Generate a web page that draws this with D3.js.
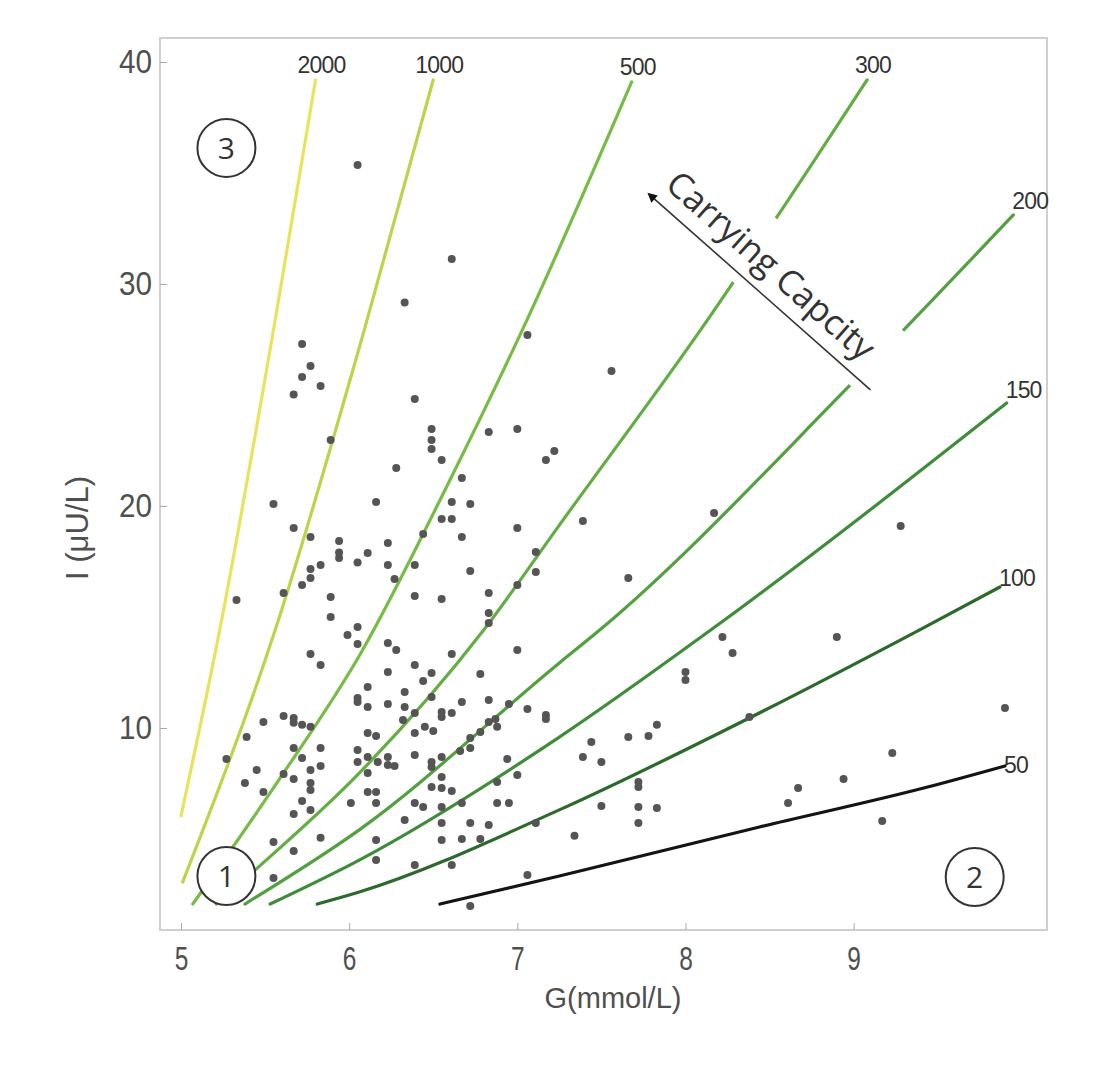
<!DOCTYPE html>
<html>
<head>
<meta charset="utf-8">
<script src="https://cdn.jsdelivr.net/npm/d3@7"></script>
<style>
  body { margin: 0; background: #fff; }
  .tickLabel { font-family: "Liberation Sans", Arial, sans-serif; fill: #4f4f4f; }
  .capLabel { font-family: "Liberation Sans", Arial, sans-serif; font-size: 23px; fill: #333; letter-spacing: -0.8px; }
</style>
</head>
<body>
<svg id="svg1" width="1120" height="1088"></svg>
<script>
// data ----------------------------------------
var gTicks = [5, 6, 7, 8, 9];
var iTicks = [10, 20, 30, 40];

var capacities = [2000, 1000, 500, 300, 200, 150, 100, 50];

// iso-capacity curves, [G, I] pairs
var curve2000 = [[5.00, 6.04], [5.23, 14.41], [5.55, 27.93], [5.80, 39.19]];
var curve1000 = [[5.01, 3.06], [5.56, 14.41], [6.09, 27.93], [6.50, 39.19]];
var curve500 = [[5.07, 2.07], [5.59, 7.75], [6.07, 13.38], [6.57, 20.72], [7.03, 27.93], [7.68, 39.10]];
var curve300 = [[5.21, 2.07], [5.44, 3.60], [6.06, 7.97], [6.80, 14.41], [7.25, 19.14], [8.09, 27.93], [9.08, 39.19]];
var curve200 = [[5.38, 2.07], [6.06, 5.41], [7.25, 12.93], [7.49, 14.41], [8.98, 25.45], [9.95, 33.11]];
var curve150 = [[5.53, 2.07], [6.06, 4.05], [7.25, 9.59], [8.15, 14.41], [9.91, 24.64]];
var curve100 = [[5.81, 2.07], [6.06, 2.61], [7.25, 6.31], [8.38, 10.45], [9.39, 14.41], [9.87, 16.35]];
var curve50 = [[6.54, 2.07], [7.25, 3.33], [8.44, 5.54], [9.44, 7.34], [9.90, 8.29]];

var curves = [curve2000, curve1000, curve500, curve300, curve200, curve150, curve100, curve50];

// patients: glucose G (mmol/L) and insulin I (uU/L)
var patientG = [
  6.05, 6.61, 6.33,
  5.72, 5.77, 5.72, 5.83, 5.67, 5.89, 5.55, 5.67, 5.77, 5.94, 5.94, 5.94, 6.05, 5.83, 5.77, 5.77, 5.72, 5.61, 5.89, 5.33, 5.89, 6.05,
  7.06, 6.39, 6.49, 6.49, 6.49, 6.55, 6.83, 7.00, 7.22, 7.17, 6.28, 6.67, 6.16, 6.61, 6.72, 6.55, 6.61, 6.44, 6.67, 7.00, 6.23, 6.11,
  6.23, 6.39, 7.11, 7.11, 7.00, 6.27, 6.72, 6.39, 6.55, 6.83, 6.83, 6.83,
  5.99, 6.05, 5.77, 5.83, 6.05, 6.05, 5.49, 5.61, 5.67, 5.67, 5.72, 5.77, 5.39, 5.27, 5.45, 5.67, 5.72, 5.83, 5.83, 6.05, 6.05, 5.61,
  5.67, 5.77, 5.77, 5.77, 5.38, 5.49, 5.72, 5.77, 5.67, 6.01, 5.83, 5.55, 5.67, 5.55,
  6.23, 6.28, 6.61, 7.00, 6.39, 6.23, 6.44, 6.49, 6.78, 6.11, 6.33, 6.23, 6.11, 6.33, 6.49, 6.67, 6.83, 6.95, 7.06, 7.17, 7.17, 6.55,
  6.55, 6.61, 6.39, 6.32, 6.45, 6.50, 6.39, 6.11, 6.16, 6.83, 6.87, 6.88, 6.78, 6.72, 6.72, 6.66, 6.39, 6.55, 6.49, 6.49, 6.55, 6.23,
  6.23, 6.27, 6.17, 6.11, 6.11, 6.94, 7.00, 6.11, 6.16, 6.16, 6.49, 6.55, 6.61, 6.88, 6.88, 6.95, 6.39, 6.44, 6.55, 6.67, 6.55, 6.33,
  6.72, 6.83, 7.11, 6.55, 6.67, 6.78, 6.16, 6.16, 6.39, 6.61, 7.06, 6.72,
  7.56, 7.39, 8.17, 7.66, 9.28, 8.22, 8.28, 8.90, 8.00, 8.00, 9.90, 7.44, 7.39, 7.50, 7.66, 7.78, 7.83, 7.72, 7.72, 7.50, 7.72, 7.83,
  7.72, 7.34, 8.61, 8.67, 8.94, 9.23, 9.17, 8.38
];
var patientI = [
  35.36, 31.13, 29.17,
  27.30, 26.31, 25.81, 25.41, 25.02, 22.97, 20.09, 19.01, 18.60, 18.42, 17.91, 17.66, 17.45, 17.34, 17.16, 16.76, 16.44, 16.08, 15.90, 15.77, 15.00, 14.55,
  27.70, 24.82, 23.47, 22.97, 22.57, 22.07, 23.33, 23.47, 22.48, 22.07, 21.71, 21.26, 20.18, 20.18, 20.09, 19.41, 19.41, 18.74, 18.60, 19.01, 18.33, 17.88,
  17.34, 17.34, 17.93, 17.03, 16.44, 16.71, 17.07, 15.95, 15.81, 16.08, 15.18, 14.73,
  14.19, 13.78, 13.33, 12.84, 11.35, 11.17, 10.27, 10.54, 10.45, 10.23, 10.14, 10.05, 9.59, 8.60, 8.11, 9.10, 8.65, 9.10, 8.29, 9.01, 8.47, 7.93,
  7.70, 8.11, 7.52, 7.21, 7.52, 7.12, 6.71, 6.31, 6.13, 6.62, 5.05, 4.86, 4.46, 3.24,
  13.83, 13.51, 13.33, 13.51, 12.84, 12.52, 12.12, 12.48, 12.43, 11.85, 11.62, 11.08, 10.95, 10.95, 11.40, 11.17, 11.26, 11.08, 10.86, 10.59, 10.41, 10.72,
  10.50, 10.68, 10.68, 10.36, 10.05, 9.86, 9.77, 9.77, 9.64, 10.27, 10.41, 10.05, 9.82, 9.55, 9.10, 8.96, 8.78, 8.69, 8.47, 8.24, 7.79, 8.69,
  8.33, 8.29, 8.47, 8.69, 7.97, 8.60, 7.88, 7.12, 7.12, 6.62, 7.34, 7.30, 7.16, 7.57, 6.62, 6.62, 6.62, 6.44, 6.44, 6.62, 5.72, 5.86,
  5.72, 5.63, 5.72, 4.95, 5.00, 5.00, 4.95, 4.05, 3.83, 3.83, 3.38, 1.98,
  26.08, 19.32, 19.68, 16.76, 19.10, 14.10, 13.38, 14.10, 12.52, 12.16, 10.90, 9.37, 8.69, 8.47, 9.59, 9.64, 10.14, 7.57, 7.34, 6.49, 6.44, 6.40,
  5.72, 5.14, 6.62, 7.30, 7.70, 8.87, 5.81, 10.50
];

// region markers and annotation arrow (data coords)
var zoneNames = ["3", "1", "2"];
var zoneG = [5.27, 5.27, 9.72];
var zoneI = [36.13, 3.33, 3.29];
var arrowTail = [9.10, 25.23];
var arrowHead = [7.79, 34.0];

// Styles ----------------------------------------
var curveColors = ["#e9e35c", "#bcd44a", "#78bb47", "#63ad44", "#52a040", "#3f8c3a", "#2c6a2c", "#141414"];
var labelNudge = [-7, -7, -7, -7, -6, -5, -1, 7]; // baseline offset of each curve label

var svg = d3.select("#svg1");

// Scales ----------------------------------------
var x = d3.scaleLinear().domain([4.875, 10.15]).range([160, 1047]);
var y = d3.scaleLinear().domain([0.9, 41.08]).range([930, 38]);

var line = d3.line()
  .x(function(d) { return x(d[0]); })
  .y(function(d) { return y(d[1]); })
  .curve(d3.curveMonotoneX);

// Frame ----------------------------------------
svg.append("rect")
  .attr("x", 160).attr("y", 38)
  .attr("width", 887).attr("height", 892)
  .attr("fill", "#fff")
  .attr("stroke", "#cfcfcf")
  .attr("stroke-width", 2);

// Axes ----------------------------------------
var yAxis = svg.append("g")
  .attr("transform", "translate(160,0)")
  .call(d3.axisLeft(y).tickValues(iTicks).tickFormat(d3.format("d")).tickSize(-7).tickPadding(9));
yAxis.select(".domain").remove();
yAxis.selectAll("line").attr("stroke", "#aaa");
yAxis.selectAll("text")
  .attr("class", "tickLabel")
  .attr("fill", null)
  .attr("transform", "scale(0.9,1)")
  .style("font-size", "33px");

var xAxis = svg.append("g")
  .attr("transform", "translate(0,930)")
  .call(d3.axisBottom(x).tickValues(gTicks).tickFormat(d3.format("d")).tickSize(-7).tickPadding(16));
xAxis.select(".domain").remove();
xAxis.selectAll("line").attr("stroke", "#aaa");
xAxis.selectAll("text")
  .attr("class", "tickLabel")
  .attr("fill", null)
  .attr("transform", "scale(0.72,1)")
  .style("font-size", "34px");

// axis titles
svg.append("text")
  .attr("class", "tickLabel")
  .attr("x", 613).attr("y", 1008)
  .attr("text-anchor", "middle")
  .style("font-size", "29px")
  .text("G(mmol/L)");

svg.append("text")
  .attr("class", "tickLabel")
  .attr("transform", "translate(88,528) rotate(-90)")
  .attr("text-anchor", "middle")
  .style("font-size", "31px")
  .text("I (\u03bcU/L)");

// Curves ----------------------------------------
svg.append("g")
  .attr("class", "curves")
  .selectAll("path")
  .data(curves)
  .enter().append("path")
  .attr("d", line)
  .attr("fill", "none")
  .attr("stroke", function(d, i) { return curveColors[i]; })
  .attr("stroke-width", 3.2)
  .attr("stroke-linecap", "round");

// curve labels at the upper end of each curve
svg.append("g")
  .selectAll("text")
  .data(curves)
  .enter().append("text")
  .attr("class", "capLabel")
  .attr("x", function(d) {
    var p = d[d.length - 1];
    return p[1] > 38 ? x(p[0]) + 6 : x(p[0]) - 1;
  })
  .attr("y", function(d, i) {
    var p = d[d.length - 1];
    return y(p[1]) + labelNudge[i];
  })
  .attr("text-anchor", function(d) { return d[d.length - 1][1] > 38 ? "middle" : "start"; })
  .text(function(d, i) { return capacities[i]; });

// Annotation ----------------------------------------
var hx = x(arrowHead[0]), hy = y(arrowHead[1]);
var tx = x(arrowTail[0]), ty = y(arrowTail[1]);
var angle = Math.atan2(ty - hy, tx - hx) * 180 / Math.PI;
var half = Math.sqrt((tx - hx) * (tx - hx) + (ty - hy) * (ty - hy)) / 2;

svg.append("defs").append("marker")
  .attr("id", "arrowHead")
  .attr("viewBox", "0 0 10 10")
  .attr("refX", 2).attr("refY", 5)
  .attr("markerWidth", 7).attr("markerHeight", 6)
  .attr("orient", "auto-start-reverse")
  .append("path")
  .attr("d", "M0,0 L10,5 L0,10 z")
  .attr("fill", "#111");

var note = svg.append("g")
  .attr("transform", "translate(" + ((hx + tx) / 2) + "," + ((hy + ty) / 2) + ") rotate(" + angle + ")");

// white box that knocks out the curves behind the text
note.append("rect")
  .attr("x", -half - 18).attr("y", -66)
  .attr("width", 2 * half + 20).attr("height", 76)
  .attr("fill", "#fff");

note.append("line")
  .attr("x1", -half + 4).attr("y1", 0)
  .attr("x2", half).attr("y2", 0)
  .attr("stroke", "#333")
  .attr("stroke-width", 1.6)
  .attr("marker-start", "url(#arrowHead)");

note.append("text")
  .attr("x", -10).attr("y", -15)
  .attr("text-anchor", "middle")
  .style("font-family", "'Open Sans', 'Noto Sans', sans-serif")
  .style("font-size", "35px")
  .attr("fill", "#333")
  .text("Carrying Capcity");

// Dots ----------------------------------------
svg.append("g")
  .attr("class", "dots")
  .selectAll("circle")
  .data(patientG)
  .enter().append("circle")
  .attr("cx", function(d) { return x(d); })
  .attr("cy", function(d, i) { return y(patientI[i]); })
  .attr("r", 4)
  .attr("fill", "#555");

// Zone markers ----------------------------------------
var zones = svg.append("g")
  .selectAll("g")
  .data(zoneNames)
  .enter().append("g")
  .attr("transform", function(d, i) { return "translate(" + x(zoneG[i]) + "," + y(zoneI[i]) + ")"; });

zones.append("circle")
  .attr("r", 29)
  .attr("fill", "#fff")
  .attr("stroke", "#333")
  .attr("stroke-width", 2);

zones.append("text")
  .attr("text-anchor", "middle")
  .attr("dy", "0.36em")
  .style("font-family", "'Open Sans', 'Noto Sans', sans-serif")
  .style("font-size", "30px")
  .attr("fill", "#333")
  .text(function(d) { return d; });
</script>
</body>
</html>
